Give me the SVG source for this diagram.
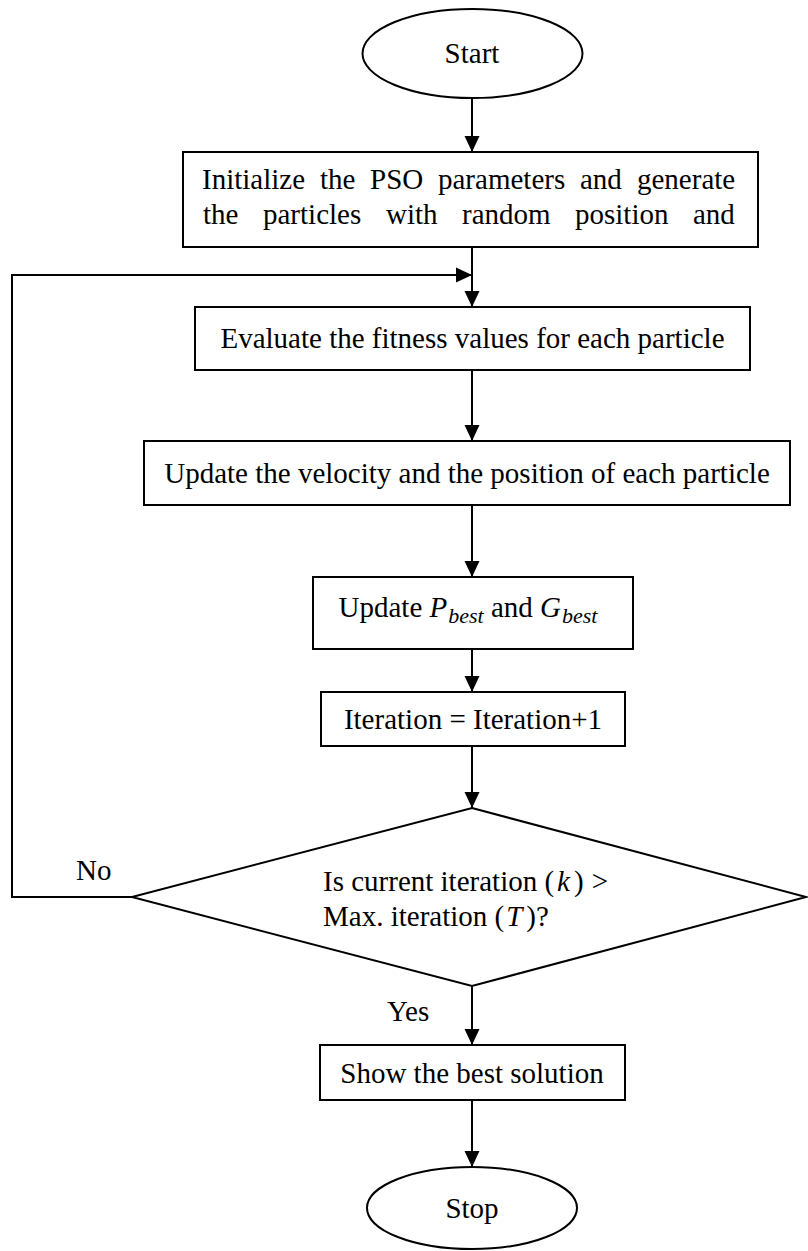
<svg xmlns="http://www.w3.org/2000/svg" width="808" height="1251" viewBox="0 0 808 1251">
  <style>
    .shape { fill: #ffffff; stroke: #000000; stroke-width: 2; }
    .edge { fill: none; stroke: #000000; stroke-width: 2; }
    .label { font-family: "Liberation Serif", "Times New Roman", serif; font-size: 29px; fill: #000000; }
    .mid { text-anchor: middle; }
    .math { font-style: italic; }
    .sub { font-style: italic; font-size: 22px; }
  </style>
  <defs>
    <marker id="arrow" viewBox="0 0 16 16" refX="16" refY="8" markerWidth="16" markerHeight="16" markerUnits="userSpaceOnUse" orient="auto">
      <path d="M0,0.5 L16,8 L0,15.5 Z" fill="#000000"/>
    </marker>
  </defs>

  <!-- connectors -->
  <g id="connectors">
    <line class="edge" x1="472" y1="98" x2="472" y2="152" marker-end="url(#arrow)"/>
    <line class="edge" x1="472" y1="247" x2="472" y2="307" marker-end="url(#arrow)"/>
    <line class="edge" x1="472" y1="370" x2="472" y2="441" marker-end="url(#arrow)"/>
    <line class="edge" x1="472" y1="505" x2="472" y2="577" marker-end="url(#arrow)"/>
    <line class="edge" x1="472" y1="649" x2="472" y2="692" marker-end="url(#arrow)"/>
    <line class="edge" x1="472" y1="746" x2="472" y2="808" marker-end="url(#arrow)"/>
    <line class="edge" x1="472" y1="986" x2="472" y2="1045" marker-end="url(#arrow)"/>
    <line class="edge" x1="472" y1="1100" x2="472" y2="1167" marker-end="url(#arrow)"/>
    <polyline class="edge" points="132,897 12,897 12,275 472,275" marker-end="url(#arrow)"/>
    <text class="label" x="76" y="880">No</text>
    <text class="label" x="387" y="1021">Yes</text>
  </g>

  <g id="start">
    <ellipse class="shape" cx="472.5" cy="53.5" rx="110" ry="44.5"/>
    <text class="label mid" x="472" y="63">Start</text>
  </g>

  <g id="init">
    <rect class="shape" x="183" y="152" width="575" height="95"/>
    <text class="label" y="189">
      <tspan x="202">Initialize</tspan><tspan x="320">the</tspan><tspan x="370">PSO</tspan><tspan x="438">parameters</tspan><tspan x="580">and</tspan><tspan x="637">generate</tspan>
    </text>
    <text class="label" y="224">
      <tspan x="203">the</tspan><tspan x="263">particles</tspan><tspan x="386">with</tspan><tspan x="462">random</tspan><tspan x="575">position</tspan><tspan x="693">and</tspan>
    </text>
  </g>

  <g id="evaluate">
    <rect class="shape" x="195" y="307" width="555" height="63"/>
    <text class="label mid" x="472.5" y="348">Evaluate the fitness values for each particle</text>
  </g>

  <g id="update-velocity">
    <rect class="shape" x="144" y="441" width="646" height="64"/>
    <text class="label mid" x="467" y="483">Update the velocity and the position of each particle</text>
  </g>

  <g id="update-best">
    <rect class="shape" x="313" y="577" width="320" height="72"/>
    <text class="label mid" x="468" y="617">Update <tspan class="math">P</tspan><tspan class="sub" dy="6" dx="1">best</tspan><tspan dy="-6"> and </tspan><tspan class="math">G</tspan><tspan class="sub" dy="6" dx="1">best</tspan></text>
  </g>

  <g id="increment">
    <rect class="shape" x="321" y="692" width="304" height="54"/>
    <text class="label mid" x="473" y="729">Iteration = Iteration+1</text>
  </g>

  <g id="decision">
    <polygon class="shape" points="472,808 806,897 472,986 132,897"/>
    <text class="label" x="323" y="891">Is current iteration (<tspan class="math" dx="3">k</tspan><tspan dx="4">)</tspan><tspan dx="8">&gt;</tspan></text>
    <text class="label" x="323" y="926">Max. iteration (<tspan class="math" dx="2">T</tspan><tspan dx="4">)?</tspan></text>
  </g>

  <g id="show">
    <rect class="shape" x="320" y="1045" width="305" height="55"/>
    <text class="label mid" x="472" y="1083">Show the best solution</text>
  </g>

  <g id="stop">
    <ellipse class="shape" cx="472" cy="1208" rx="105" ry="41"/>
    <text class="label mid" x="472" y="1218">Stop</text>
  </g>
</svg>
